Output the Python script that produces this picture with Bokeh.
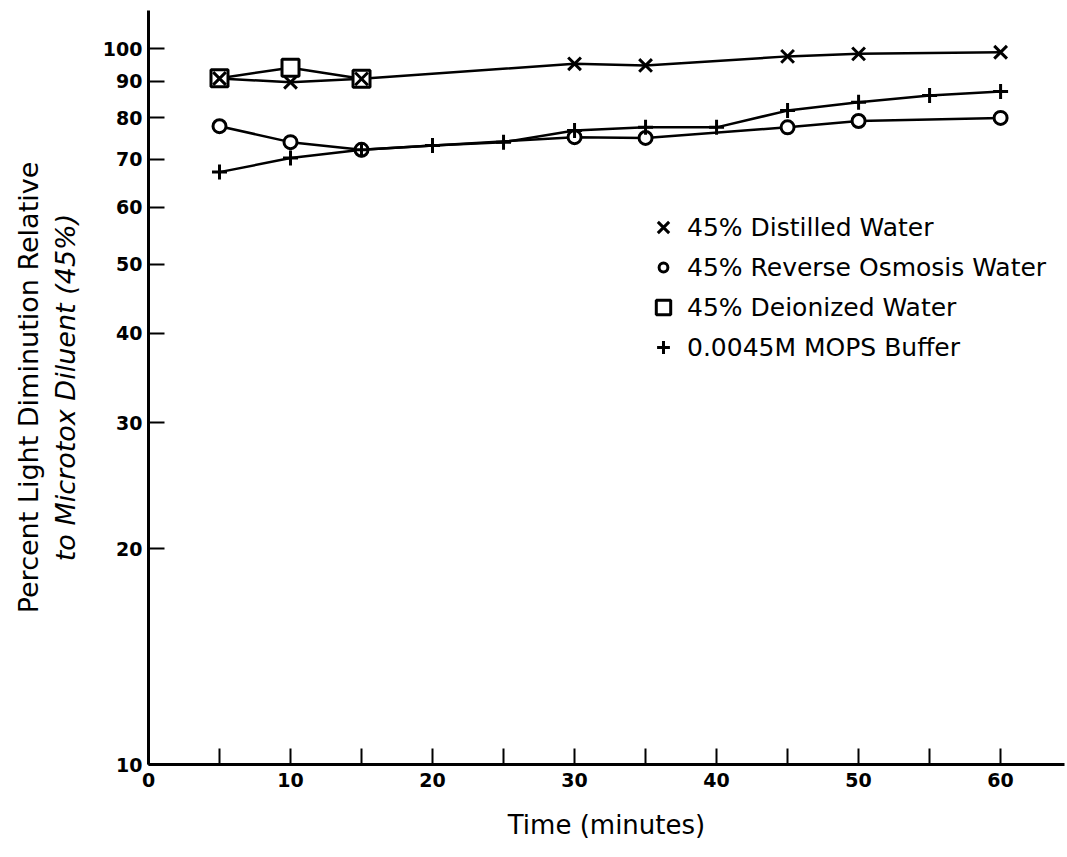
from bokeh.plotting import figure
from bokeh.models import (FixedTicker, NumeralTickFormatter, Legend, LegendItem,
                          LogAxis, Range1d)
from bokeh.embed import file_html
from bokeh.resources import INLINE

# Percent light diminution over time for each diluent
time_distilled = [5, 10, 15, 30, 35, 45, 50, 60]
pct_distilled = [90.8, 89.7, 90.7, 95.2, 94.7, 97.5, 98.3, 98.8]

time_ro = [5, 10, 15, 30, 35, 45, 50, 60]
pct_ro = [77.9, 74.0, 72.2, 75.2, 75.0, 77.6, 79.2, 80.0]

time_deionized = [5, 10, 15]
pct_deionized = [90.9, 94.0, 90.7]

time_mops = [5, 10, 15, 20, 25, 30, 35, 40, 45, 50, 55, 60]
pct_mops = [67.2, 70.3, 72.2, 73.2, 74.0, 76.8, 77.6, 77.6, 81.9, 84.1, 86.0, 87.1]

series_labels = ["45% Distilled Water", "45% Reverse Osmosis Water",
                 "45% Deionized Water", "0.0045M MOPS Buffer"]

x_ticks = [0, 5, 10, 15, 20, 25, 30, 35, 40, 45, 50, 55, 60]
x_labelled = [0, 10, 20, 30, 40, 50, 60]
y_ticks = [10, 20, 30, 40, 50, 60, 70, 80, 90, 100]

FONT = "DejaVu Sans"
LEFT, BOTTOM = 148, 93      # frame offsets inside the canvas

p = figure(width=1067, height=857, x_range=Range1d(0, 64.5), y_range=Range1d(10, 113),
           y_axis_type="log", output_backend="svg", toolbar_location=None,
           min_border_left=LEFT, min_border_right=3, min_border_top=10,
           min_border_bottom=BOTTOM, background_fill_color="white",
           border_fill_color="white", outline_line_color=None)
p.grid.visible = False

# axes: thick lines, ticks pointing into the plot
for ax in (p.xaxis, p.yaxis):
    ax.axis_line_width = 3
    ax.axis_line_color = "black"
    ax.major_tick_in = 16
    ax.major_tick_out = 0
    ax.major_tick_line_width = 2
    ax.major_tick_line_color = "black"
    ax.minor_tick_line_color = None
    ax.major_label_text_font = FONT
    ax.major_label_text_font_style = "bold"
    ax.major_label_text_font_size = "19px"
    ax.major_label_text_color = "black"

p.xaxis.ticker = FixedTicker(ticks=x_ticks)
p.xaxis.major_label_overrides = {t: "" for t in x_ticks if t not in x_labelled}
p.xaxis.major_label_standoff = 8
p.xaxis.axis_label = "Time (minutes)"
p.xaxis.axis_label_text_font = FONT
p.xaxis.axis_label_text_font_style = "normal"
p.xaxis.axis_label_text_font_size = "26px"
p.xaxis.axis_label_text_color = "black"
p.xaxis.axis_label_standoff = 20

p.yaxis.ticker = FixedTicker(ticks=y_ticks, minor_ticks=[])
p.yaxis.formatter = NumeralTickFormatter(format="0")
p.yaxis.major_label_standoff = 6
p.yaxis.axis_label = "to Microtox Diluent (45%)"
p.yaxis.axis_label_text_font = FONT
p.yaxis.axis_label_text_font_style = "italic"
p.yaxis.axis_label_text_font_size = "27px"
p.yaxis.axis_label_text_color = "black"
p.yaxis.axis_label_standoff = 19

# outer title line on a bare axis
title_axis = LogAxis(ticker=FixedTicker(ticks=[]), axis_line_color=None,
                     major_tick_line_color=None, minor_tick_line_color=None,
                     major_label_text_font_size="0px",
                     axis_label="Percent Light Diminution Relative",
                     axis_label_text_font=FONT, axis_label_text_font_style="normal",
                     axis_label_text_font_size="27px", axis_label_text_color="black",
                     axis_label_standoff=3)
p.add_layout(title_axis, "left")

# connecting lines
for xs, ys in ((time_distilled, pct_distilled), (time_ro, pct_ro),
               (time_deionized, pct_deionized), (time_mops, pct_mops)):
    p.line(xs, ys, line_color="black", line_width=2.5)

r_sq = p.scatter(time_deionized, pct_deionized, marker="square", size=17,
                 fill_color="white", line_color="black", line_width=3)
r_x = p.scatter(time_distilled, pct_distilled, marker="x", size=18,
                line_color="black", line_width=3)
r_o = p.scatter(time_ro, pct_ro, marker="circle", size=13,
                fill_color="white", line_color="black", line_width=3)
r_p = p.scatter(time_mops, pct_mops, marker="cross", size=15,
                line_color="black", line_width=3)

# key: one single-row legend per series so each symbol keeps its own size
key_x_center = 663          # canvas x of the key symbols
key_text_start = 687        # canvas x where key texts begin
key_rows = [227, 267, 307, 347]
key_boxes = [40, 22, 36, 32]
ROW_H = 40
for label, rend, cy, box in zip(series_labels, [r_x, r_o, r_sq, r_p], key_rows, key_boxes):
    half = box // 2
    lg = Legend(items=[LegendItem(label=label, renderers=[rend])],
                location=(key_x_center - half - LEFT, 857 - BOTTOM - (cy + ROW_H // 2)),
                glyph_width=box, glyph_height=ROW_H, label_height=ROW_H,
                label_standoff=key_text_start - key_x_center - half,
                spacing=0, padding=0, margin=0, border_line_color=None,
                background_fill_alpha=0, label_text_font=FONT,
                label_text_font_size="25px", label_text_color="black")
    p.add_layout(lg)

open("out.html", "w").write(file_html(p, INLINE))
